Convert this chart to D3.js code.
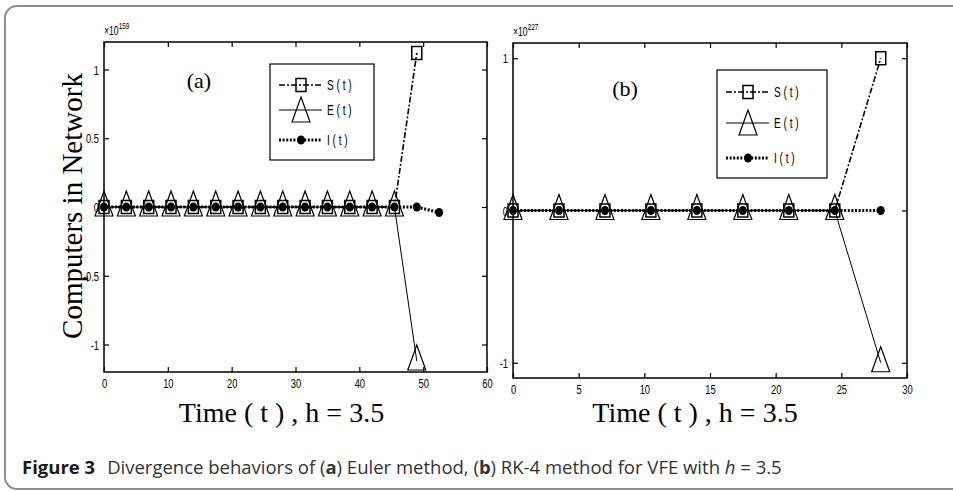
<!DOCTYPE html>
<html>
<head>
<meta charset="utf-8">
<script src="https://cdn.jsdelivr.net/npm/d3@7"></script>
<style>
  body { margin: 0; background: #fff; }
  svg { display: block; }
</style>
</head>
<body>
<svg width="953" height="491"></svg>
<script>
// panel (a): Euler, h = 3.5
var timeA = [0, 3.5, 7, 10.5, 14, 17.5, 21, 24.5, 28, 31.5, 35, 38.5, 42, 45.5, 49];
var timeAI = [0, 3.5, 7, 10.5, 14, 17.5, 21, 24.5, 28, 31.5, 35, 38.5, 42, 45.5, 49, 52.5];
var sA = [0, 0, 0, 0, 0, 0, 0, 0, 0, 0, 0, 0, 0, 0, 1.12];
var eA = [0, 0, 0, 0, 0, 0, 0, 0, 0, 0, 0, 0, 0, 0, -1.12];
var iA = [0, 0, 0, 0, 0, 0, 0, 0, 0, 0, 0, 0, 0, 0, 0, -0.04];
var xTicksA = [0, 10, 20, 30, 40, 50, 60];
var yTicksA = [-1, -0.5, 0, 0.5, 1];

// panel (b): RK-4, h = 3.5
var timeB = [0, 3.5, 7, 10.5, 14, 17.5, 21, 24.5, 28];
var sB = [0, 0, 0, 0, 0, 0, 0, 0, 1.0];
var eB = [0, 0, 0, 0, 0, 0, 0, 0, -1.0];
var iB = [0, 0, 0, 0, 0, 0, 0, 0, 0];
var xTicksB = [0, 5, 10, 15, 20, 25, 30];
var yTicksB = [-1, 0, 1];

var legendNames = ['S ( t )', 'E ( t )', 'I ( t )'];

var svg = d3.select('svg');
var sans = "'Liberation Sans', Arial, sans-serif";
var serif = "'Liberation Serif', 'Times New Roman', serif";
var squeeze = 0.72; // narrow look of the matlab labels

// card frame
svg.append('rect')
  .attr('x', 5).attr('y', 6)
  .attr('width', 970).attr('height', 483)
  .attr('rx', 12)
  .attr('fill', 'none')
  .attr('stroke', '#8c8c8c')
  .attr('stroke-width', 2);

function narrowText(sel, x, y, txt, size, anchor) {
  return sel.append('text')
    .attr('transform', 'translate(' + x + ',' + y + ') scale(' + squeeze + ',1)')
    .attr('text-anchor', anchor || 'start')
    .attr('font-family', sans).attr('font-size', size + 'px')
    .attr('fill', '#000')
    .text(txt);
}

function triangle(g, x, y) {
  g.append('path')
    .attr('d', 'M' + x + ',' + (y - 16) + 'L' + (x + 9) + ',' + (y + 9) + 'L' + (x - 9) + ',' + (y + 9) + 'Z')
    .attr('fill', 'none').attr('stroke', '#000').attr('stroke-width', 1.2);
}
function square(g, x, y) {
  g.append('rect')
    .attr('x', x - 5).attr('y', y - 6.5).attr('width', 10).attr('height', 13)
    .attr('fill', 'none').attr('stroke', '#000').attr('stroke-width', 1.5);
}
function dot(g, x, y) {
  g.append('ellipse')
    .attr('cx', x).attr('cy', y).attr('rx', 4).attr('ry', 4.5)
    .attr('fill', '#000');
}

var styleS = { width: 1.6, dash: '6,2,2,2' };
var styleE = { width: 1, dash: null };
var styleI = { width: 3.2, dash: '2,1.6' };

function drawPanel(p) {
  var x = d3.scaleLinear().domain(p.xDomain).range([p.left, p.right]);
  var y = d3.scaleLinear().domain(p.yDomain).range([p.bottom, p.top]);
  var g = svg.append('g');

  // box with inward ticks on all sides
  g.append('rect')
    .attr('x', p.left).attr('y', p.top)
    .attr('width', p.right - p.left).attr('height', p.bottom - p.top)
    .attr('fill', 'none').attr('stroke', '#000').attr('stroke-width', 1.5);

  var axes = [
    [d3.axisBottom(x).tickValues(p.xTicks).tickSize(-5), 'translate(0,' + p.bottom + ')', 'bottom'],
    [d3.axisTop(x).tickValues(p.xTicks).tickSize(-5), 'translate(0,' + p.top + ')', 'top'],
    [d3.axisLeft(y).tickValues(p.yTicks).tickSize(-5), 'translate(' + p.left + ',0)', 'left'],
    [d3.axisRight(y).tickValues(p.yTicks).tickSize(-5), 'translate(' + p.right + ',0)', 'right']
  ];
  axes.forEach(function(a) {
    var ag = g.append('g').attr('transform', a[1]).call(a[0]);
    ag.select('.domain').remove();
    ag.selectAll('line').attr('stroke', '#000').attr('stroke-width', 1.2);
    ag.selectAll('text').remove();
    if (a[2] === 'bottom') {
      ag.selectAll('.tick').each(function(d) {
        narrowText(d3.select(this), 0, 16, d, 13, 'middle');
      });
    }
    if (a[2] === 'left') {
      ag.selectAll('.tick').each(function(d) {
        narrowText(d3.select(this), -5, 4.5, d, 13, 'end');
      });
    }
  });

  // exponent label
  var ex = g.append('text')
    .attr('transform', 'translate(' + p.left + ',' + (p.top - 7) + ') scale(' + squeeze + ',1)')
    .attr('font-family', sans).attr('font-size', '12px').attr('fill', '#000');
  ex.append('tspan').text('\u00d710');
  ex.append('tspan').attr('dy', -6).attr('font-size', '9px').text(p.exponent);

  // panel letter
  g.append('text')
    .attr('x', p.tagX).attr('y', p.tagY)
    .attr('text-anchor', 'middle')
    .attr('font-family', serif).attr('font-size', '22px')
    .text(p.tag);

  // x label
  g.append('text')
    .attr('x', (p.left + p.right) / 2 - p.xLabelShift).attr('y', 422)
    .attr('text-anchor', 'middle')
    .attr('font-family', serif).attr('font-size', '28px')
    .text('Time ( t ) , h = 3.5');

  var plot = g.append('g');
  function series(ts, vs, st, marker) {
    var pts = ts.map(function(t, i) { return [x(t), y(vs[i])]; });
    plot.append('path')
      .attr('d', d3.line()(pts))
      .attr('fill', 'none').attr('stroke', '#000')
      .attr('stroke-width', st.width)
      .attr('stroke-dasharray', st.dash);
    pts.forEach(function(pt) { marker(plot, pt[0], pt[1]); });
  }
  series(p.ts, p.s, styleS, square);
  series(p.ts, p.e, styleE, triangle);
  series(p.tsI, p.i, styleI, dot);

  // legend
  var lg = g.append('g');
  lg.append('rect')
    .attr('x', p.legX).attr('y', p.legY)
    .attr('width', p.legW).attr('height', p.legH)
    .attr('fill', '#fff').attr('stroke', '#000').attr('stroke-width', 1.2);
  var styles = [styleS, styleE, styleI];
  var markers = [square, triangle, dot];
  legendNames.forEach(function(name, k) {
    var ly = p.legRows[k];
    var x0 = p.legX + 9, x1 = p.legX + 52, xm = p.legX + 31;
    lg.append('line')
      .attr('x1', x0).attr('x2', x1).attr('y1', ly).attr('y2', ly)
      .attr('stroke', '#000')
      .attr('stroke-width', styles[k].width)
      .attr('stroke-dasharray', styles[k].dash);
    markers[k](lg, xm, ly + (k === 1 ? 3 : 0));
    narrowText(lg, p.legX + 57, ly + 5, name, 14);
  });
}

drawPanel({
  left: 104, right: 487, top: 42, bottom: 372,
  xDomain: [0, 60], yDomain: [-1.2, 1.2],
  xTicks: xTicksA, yTicks: yTicksA,
  ts: timeA, tsI: timeAI, s: sA, e: eA, i: iA,
  exponent: '159', tag: '(a)', tagX: 199, tagY: 88, xLabelShift: 14,
  legX: 270, legY: 64, legW: 104, legH: 96, legRows: [85, 110, 140]
});

drawPanel({
  left: 513, right: 907, top: 43, bottom: 378,
  xDomain: [0, 30], yDomain: [-1.1, 1.1],
  xTicks: xTicksB, yTicks: yTicksB,
  ts: timeB, tsI: timeB, s: sB, e: eB, i: iB,
  exponent: '227', tag: '(b)', tagX: 625, tagY: 96, xLabelShift: 15,
  legX: 717, legY: 70, legW: 110, legH: 108, legRows: [92, 123, 158]
});

// y axis title (panel a only)
svg.append('text')
  .attr('transform', 'translate(82,206) rotate(-90)')
  .attr('text-anchor', 'middle')
  .attr('font-family', serif).attr('font-size', '29px')
  .text('Computers in Network');

// caption
var cap = svg.append('text')
  .attr('x', 22).attr('y', 474)
  .attr('font-family', "'Open Sans', 'Noto Sans', sans-serif")
  .attr('font-size', '18.5px')
  .attr('fill', '#333');
cap.append('tspan').attr('font-weight', 'bold').attr('fill', '#1a1a1a').text('Figure 3');
cap.append('tspan').attr('dx', 12).text('Divergence behaviors of (');
cap.append('tspan').attr('font-weight', 'bold').text('a');
cap.append('tspan').text(') Euler method, (');
cap.append('tspan').attr('font-weight', 'bold').text('b');
cap.append('tspan').text(') RK-4 method for VFE with ');
cap.append('tspan').attr('font-style', 'italic').text('h');
cap.append('tspan').text(' = 3.5');
</script>
</body>
</html>
